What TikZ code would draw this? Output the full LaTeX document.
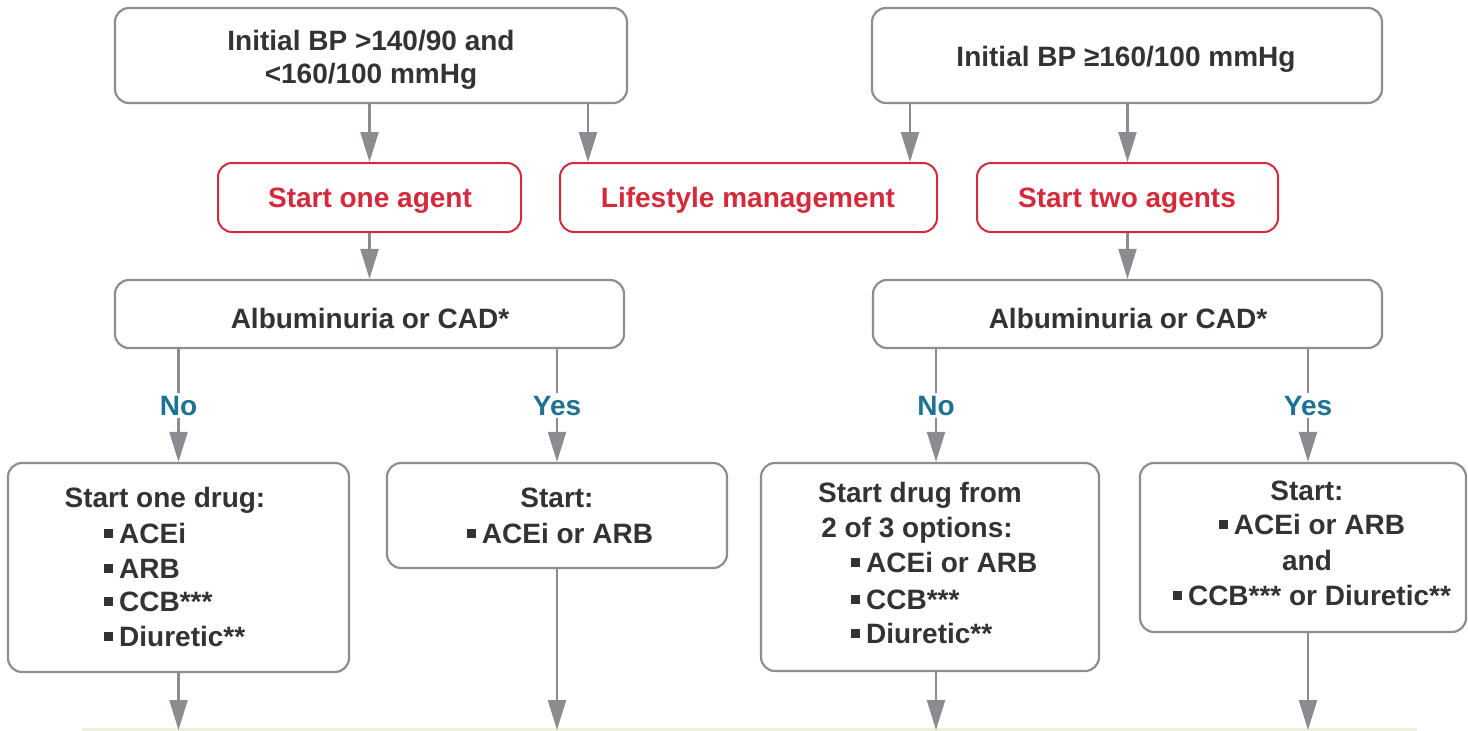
\documentclass[tikz,border=0pt]{standalone}
\usepackage{fontspec}
\setmainfont{Liberation Sans}
\usetikzlibrary{arrows.meta}
\definecolor{bordergray}{HTML}{8E8E8E}
\definecolor{arrowgray}{HTML}{8B8C8F}
\definecolor{txtgray}{HTML}{333333}
\definecolor{myred}{HTML}{D42A3C}
\definecolor{myblue}{HTML}{1E7293}
\definecolor{beige}{HTML}{EEF1DA}
\newcommand{\mybul}{\rule[5.5pt]{9pt}{9pt}\hspace{6pt}}
\begin{document}
\begin{tikzpicture}[x=1pt,y=-1pt,
  font=\bfseries\fontsize{28}{34}\selectfont, text=txtgray,
  box/.style={draw=bordergray, line width=2.2pt, rounded corners=14pt, fill=white, inner sep=0pt},
  rbox/.style={draw=myred, line width=2pt, rounded corners=14pt, fill=white, inner sep=0pt},
  arr/.style={draw=arrowgray, line width=2.2pt, -{Triangle[length=30pt,width=18pt]}},
  lbl/.style={fill=white, text=myblue, inner sep=3pt},
  txt/.style={anchor=base, inner sep=0pt},
  ltxt/.style={anchor=base west, inner sep=0pt},
  rtxt/.style={anchor=base, inner sep=0pt, text=myred}]
\useasboundingbox (0,0) rectangle (1468,731);
\fill[beige] (82,728) rectangle (1417,731);

% boxes
\node[box, minimum width=512pt, minimum height=95pt] (tl) at (371,55.5) {};
\node[box, minimum width=510pt, minimum height=95pt] (tr) at (1127,55.5) {};
\node[rbox, minimum width=303pt, minimum height=69pt] (s1) at (369.5,197.5) {};
\node[rbox, minimum width=377pt, minimum height=69pt] (lm) at (748.5,197.5) {};
\node[rbox, minimum width=301pt, minimum height=69pt] (s2) at (1127.5,197.5) {};
\node[box, minimum width=509pt, minimum height=68pt] (al) at (369.5,314) {};
\node[box, minimum width=509pt, minimum height=68pt] (ar) at (1127.5,314) {};
\node[box, minimum width=341pt, minimum height=209pt] (b1) at (178.5,567.5) {};
\node[box, minimum width=340pt, minimum height=105pt] (b2) at (557,515.5) {};
\node[box, minimum width=338pt, minimum height=208pt] (b3) at (930,567) {};
\node[box, minimum width=326pt, minimum height=169pt] (b4) at (1303,547.5) {};

% texts
\node[txt] (tlA) at (371,50) {Initial BP >140/90 and};
\node[txt] (tlB) at (371,83) {<160/100 mmHg};
\node[txt] (trA) at (1126,66) {Initial BP ≥160/100 mmHg};
\node[rtxt] (s1t) at (370,207) {Start one agent};
\node[rtxt] (lmt) at (748,207) {Lifestyle management};
\node[rtxt] (s2t) at (1127,207) {Start two agents};
\node[txt] (alt) at (370,328) {Albuminuria or CAD*};
\node[txt] (art) at (1128,328) {Albuminuria or CAD*};

\node[txt] (b1t) at (165,507) {Start one drug:};
\node[ltxt] (b1a) at (104,543) {\mybul ACEi};
\node[ltxt] (b1b) at (104,578) {\mybul ARB};
\node[ltxt] (b1c) at (104,611) {\mybul CCB***};
\node[ltxt] (b1d) at (104,646) {\mybul Diuretic**};

\node[txt] (b2t) at (557,507) {Start:};
\node[txt] (b2a) at (560,543) {\mybul ACEi or ARB};

\node[txt] (b3t) at (920,502) {Start drug from};
\node[txt] (b3u) at (917,537) {2 of 3 options:};
\node[ltxt] (b3a) at (851,572) {\mybul ACEi or ARB};
\node[ltxt] (b3b) at (851,609) {\mybul CCB***};
\node[ltxt] (b3c) at (851,643) {\mybul Diuretic**};

\node[txt] (b4t) at (1307,500) {Start:};
\node[txt] (b4a) at (1312,534) {\mybul ACEi or ARB};
\node[txt] (b4b) at (1307,570) {and};
\node[txt] (b4c) at (1312,605) {\mybul CCB*** or Diuretic**};

% helper coordinates
\coordinate (xa) at (588,0);
\coordinate (xb) at (910,0);
\coordinate (xc) at (936,0);
\coordinate (xd) at (1308,0);
\coordinate (ybot) at (0,730);

% connectors
\draw[arr] (tl.south -| s1.north) -- (s1.north);
\draw[arr] (tl.south -| xa) -- (lm.north -| xa);
\draw[arr] (tr.south -| xb) -- (lm.north -| xb);
\draw[arr] (tr.south -| s2.north) -- (s2.north);
\draw[arr] (s1.south) -- (al.north -| s1.south);
\draw[arr] (s2.south) -- (ar.north -| s2.south);
\draw[arr] (al.south -| b1.north) -- node[lbl] (no1) {No} (b1.north);
\draw[arr] (al.south -| b2.north) -- node[lbl] (yes1) {Yes} (b2.north);
\draw[arr] (ar.south -| xc) -- node[lbl] (no2) {No} (b3.north -| xc);
\draw[arr] (ar.south -| xd) -- node[lbl] (yes2) {Yes} (b4.north -| xd);
\draw[arr] (b1.south) -- (b1.south |- ybot);
\draw[arr] (b2.south) -- (b2.south |- ybot);
\draw[arr] (b3.south -| xc) -- (xc |- ybot);
\draw[arr] (b4.south -| xd) -- (xd |- ybot);
\end{tikzpicture}
\end{document}
